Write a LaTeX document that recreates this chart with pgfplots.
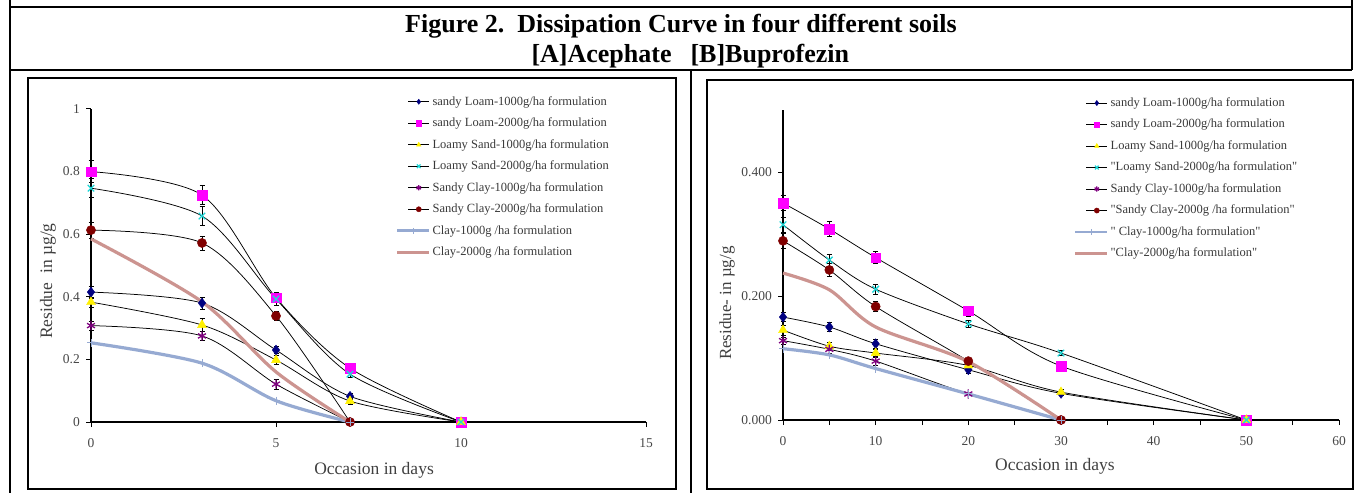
\documentclass[border=0pt]{standalone}
\usepackage{fontspec}
\setmainfont{Liberation Serif}
\usepackage{pgfplots}
\pgfplotsset{compat=1.18}
\newcommand{\q}{\textquotedbl}
\definecolor{cNavy}{RGB}{0,0,128}
\definecolor{cMag}{RGB}{255,0,255}
\definecolor{cYel}{RGB}{255,240,0}
\definecolor{cCya}{RGB}{30,215,215}
\definecolor{cPur}{RGB}{128,0,128}
\definecolor{cDred}{RGB}{128,0,0}
\definecolor{cClayB}{RGB}{150,170,210}
\definecolor{cClayR}{RGB}{204,148,144}
\pgfplotsset{
  panel/.style={scale only axis, clip=false, enlargelimits=false,
    axis x line=bottom, axis y line=left,
    axis line style={-, line width=1.5pt, black},
    tick align=outside, major tick length=5pt, minor tick length=5pt,
    tick style={black, line width=1pt}, minor tick style={black, line width=1pt},
    /pgf/number format/assume math mode=true,
    tick label style={font=\fontsize{13.5}{15}\selectfont, text=black!72, inner sep=0pt},
    yticklabel style={anchor=east, xshift=-6pt},
    xticklabel style={anchor=north, yshift=-11pt},
    label style={font=\fontsize{17.5}{20}\selectfont, text=black!75},
    legend cell align=left,
  },
  blk/.style={black, line width=0.75pt, smooth,
    error bars/y dir=both, error bars/y explicit,
    error bars/error bar style={black, line width=0.6pt},
    error bars/error mark options={black, rotate=90, mark size=2.5pt, line width=0.6pt},
    legend image code/.code={\path[draw=none, fill=none] (0pt,0pt) -- (1pt,0pt);
      \draw[mark repeat=2, mark phase=2, mark size=2.6pt] plot coordinates {(11pt,0pt) (21.5pt,0pt) (32pt,0pt)};}},
  clay/.style={line width=3.2pt, smooth,
    legend image code/.code={\draw[mark repeat=2, mark phase=2, mark size=3pt, line width=2.6pt] plot coordinates {(0pt,0pt) (16pt,0pt) (32pt,0pt)};}},
  mSL1/.style={mark=diamond*, mark size=5pt, mark options={draw=cNavy, fill=cNavy, line width=0.4pt}},
  mSL2/.style={mark=square*, mark size=4.7pt, mark options={draw=cMag, fill=cMag, line width=0.4pt}},
  mLS1/.style={mark=triangle*, mark size=5.2pt, mark options={draw=cYel, fill=cYel, line width=0.4pt}},
  mLS2/.style={mark=x, mark size=4.6pt, mark options={draw=cCya, line width=1.3pt}},
  mSC1/.style={mark=asterisk, mark size=4.6pt, mark options={draw=cPur, line width=1.3pt}},
  mSC2/.style={mark=*, mark size=4.6pt, mark options={draw=cDred, fill=cDred, line width=0.4pt}},
  lgd/.style={legend style={draw=none, fill=none, at={#1}, anchor=north west,
    inner sep=0pt, outer sep=0pt, row sep=10pt, column sep=2pt,
    font=\fontsize{12.5}{14}\selectfont, text=black!78,
    nodes={inner sep=0pt, text height=9pt, text depth=2.5pt}}},
}
\begin{document}
\begin{tikzpicture}[x=1pt,y=1pt]
\useasboundingbox (0,0) rectangle (1356,493);
% table frame
\draw[line width=1.6pt] (10,486) -- (1352,486);
\draw[line width=1.6pt] (10,423) -- (1352,423);
\draw[line width=1.6pt] (10,493) -- (10,0);
\draw[line width=1.6pt] (1352,493) -- (1352,423);
\draw[line width=1.6pt] (691,423) -- (691,0);
% chart frames
\draw[line width=2.6pt] (28,4) rectangle (676,415);
\draw[line width=2.6pt] (707,4) rectangle (1353,413);
% title
\node[anchor=base, font=\fontsize{26}{30}\selectfont\bfseries] at (681,460) {Figure 2.\ \ Dissipation Curve in four different soils};
\node[anchor=base west, font=\fontsize{26}{30}\selectfont\bfseries] at (528,430) {[A]Acephate\hspace{19pt}[B]Buprofezin};

% ---------- Panel A : Acephate ----------
\begin{axis}[panel, lgd={(0.5495,1.0415)}, at={(91pt,71pt)}, anchor=south west,
  width=555pt, height=313pt, xmin=0, xmax=15, ymin=0, ymax=1,
  xtick={0,5,10,15}, ytick={0,0.2,0.4,0.6,0.8,1},
  xlabel={Occasion in days}, ylabel={Residue\ \ in \textmu g/g},
  xlabel style={at={(axis description cs:0.51,-0.153)}, anchor=center},
  ylabel style={at={(axis description cs:-0.0775,0.45)}, anchor=center, rotate=0}]
\addplot[blk, mSL1] coordinates {(0,0.415) +- (0,0.02) (3,0.38) +- (0,0.02) (5,0.23) +- (0,0.012) (7,0.082) +- (0,0.01) (10,0) +- (0,0)};
\addlegendentry{sandy Loam-1000g/ha formulation}
\addplot[blk, mSL2] coordinates {(0,0.80) +- (0,0.035) (3,0.725) +- (0,0.03) (5,0.397) +- (0,0.015) (7,0.172) +- (0,0.01) (10,0) +- (0,0)};
\addlegendentry{sandy Loam-2000g/ha formulation}
\addplot[blk, mLS1] coordinates {(0,0.383) +- (0,0.015) (3,0.31) +- (0,0.02) (5,0.198) +- (0,0.015) (7,0.067) +- (0,0.01) (10,0) +- (0,0)};
\addlegendentry{Loamy Sand-1000g/ha formulation}
\addplot[blk, mLS2] coordinates {(0,0.747) +- (0,0.03) (3,0.658) +- (0,0.03) (5,0.393) +- (0,0.02) (7,0.153) +- (0,0.01) (10,0) +- (0,0)};
\addlegendentry{Loamy Sand-2000g/ha formulation}
\addplot[blk, mSC1] coordinates {(0,0.308) +- (0,0.015) (3,0.275) +- (0,0.015) (5,0.121) +- (0,0.015) (7,0) +- (0,0)};
\addlegendentry{Sandy Clay-1000g/ha formulation}
\addplot[blk, mSC2] coordinates {(0,0.613) +- (0,0.025) (3,0.572) +- (0,0.022) (5,0.339) +- (0,0.015) (7,0) +- (0,0)};
\addlegendentry{Sandy Clay-2000g/ha formulation}
\addplot[clay, cClayB, mark=+, mark size=4pt, mark options={draw=cClayB, line width=1pt}] coordinates {(0,0.253) (3,0.188) (5,0.068) (7,0)};
\addlegendentry{Clay-1000g /ha formulation}
\addplot[clay, cClayR] coordinates {(0,0.585) (3,0.384) (5,0.16) (7,0)};
\addlegendentry{Clay-2000g /ha formulation}
\end{axis}

% ---------- Panel B : Buprofezin ----------
\begin{axis}[panel, lgd={(0.5234,1.041)}, at={(783pt,73pt)}, anchor=south west,
  width=556pt, height=310pt, xmin=0, xmax=60, ymin=0, ymax=0.5,
  xtick={0,10,20,30,40,50,60}, minor x tick num=1, ytick={0,0.2,0.4},
  yticklabel style={/pgf/number format/.cd, fixed, fixed zerofill, precision=3},
  xlabel={Occasion in days}, ylabel={Residue- in \textmu g/g},
  xlabel style={at={(axis description cs:0.489,-0.148)}, anchor=center},
  ylabel style={at={(axis description cs:-0.1007,0.377)}, anchor=center, font=\fontsize{17}{20}\selectfont}]
\addplot[blk, mSL1] coordinates {(0,0.166) +- (0,0.007) (5,0.150) +- (0,0.007) (10,0.123) +- (0,0.007) (20,0.081) +- (0,0.005) (30,0.043) +- (0,0) (50,0) +- (0,0)};
\addlegendentry{sandy Loam-1000g/ha formulation}
\addplot[blk, mSL2] coordinates {(0,0.350) +- (0,0.012) (5,0.308) +- (0,0.012) (10,0.262) +- (0,0.01) (20,0.176) +- (0,0.008) (30,0.087) +- (0,0.005) (50,0) +- (0,0)};
\addlegendentry{sandy Loam-2000g/ha formulation}
\addplot[blk, mLS1] coordinates {(0,0.145) +- (0,0.008) (5,0.119) +- (0,0.006) (10,0.108) +- (0,0.006) (20,0.088) +- (0,0.005) (30,0.045) +- (0,0.005) (50,0) +- (0,0)};
\addlegendentry{Loamy Sand-1000g/ha formulation}
\addplot[blk, mLS2] coordinates {(0,0.315) +- (0,0.012) (5,0.258) +- (0,0.01) (10,0.211) +- (0,0.008) (20,0.155) +- (0,0.006) (30,0.108) +- (0,0.004) (50,0) +- (0,0)};
\addlegendentry{\q Loamy Sand-2000g/ha formulation\q}
\addplot[blk, mSC1] coordinates {(0,0.128) +- (0,0.006) (5,0.114) +- (0,0.006) (10,0.095) +- (0,0.006) (20,0.042) +- (0,0) (30,0) +- (0,0)};
\addlegendentry{Sandy Clay-1000g/ha formulation}
\addplot[blk, mSC2] coordinates {(0,0.289) +- (0,0.012) (5,0.242) +- (0,0.01) (10,0.183) +- (0,0.008) (20,0.095) +- (0,0.004) (30,0) +- (0,0)};
\addlegendentry{\q Sandy Clay-2000g /ha formulation\q}
\addplot[clay, cClayB, mark=+, mark size=4pt, mark options={draw=cClayB, line width=1pt}] coordinates {(0,0.115) (5,0.105) (10,0.083) (20,0.042) (30,0)};
\addlegendentry{\q\ Clay-1000g/ha formulation\q}
\addplot[clay, cClayR] coordinates {(0,0.237) (5,0.21) (10,0.150) (20,0.094) (30,0)};
\addlegendentry{\q Clay-2000g/ha formulation\q}
\end{axis}
\end{tikzpicture}
\end{document}
